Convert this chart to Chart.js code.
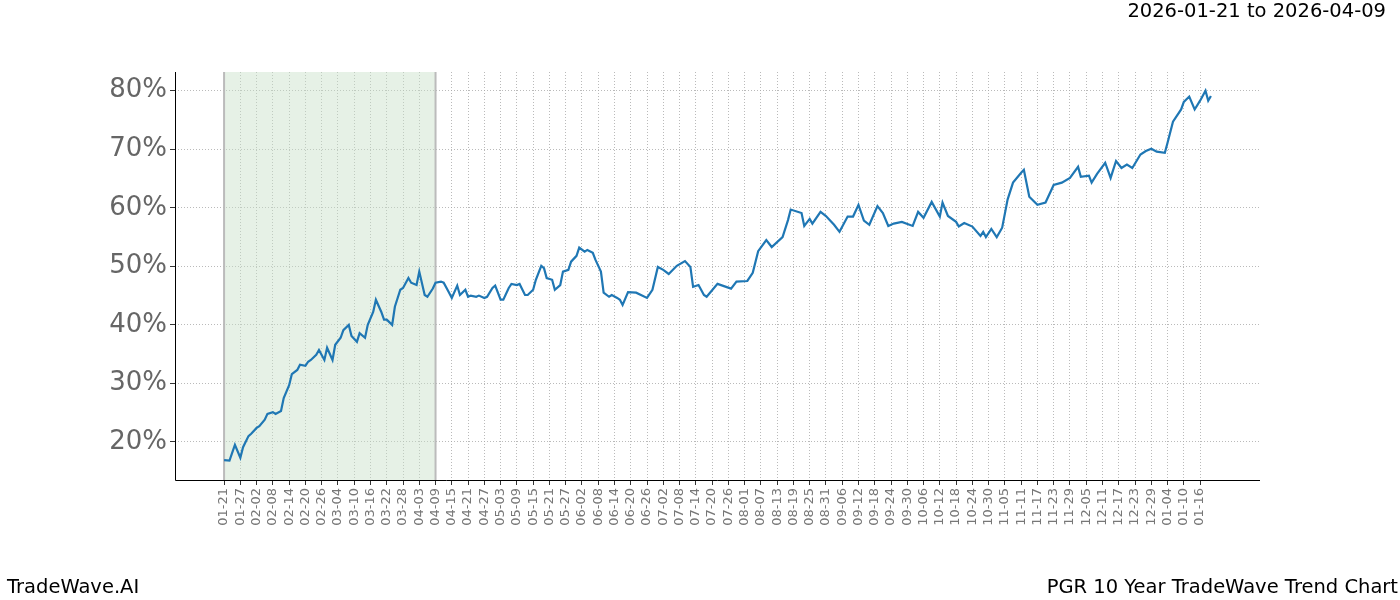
<!DOCTYPE html>
<html>
<head>
<meta charset="utf-8">
<script src="https://cdn.jsdelivr.net/npm/chart.js@4"></script>
<style>
    body { margin: 0; background: #fff; font-family: "DejaVu Sans", sans-serif; }
    #wrap { position: relative; width: 1400px; height: 600px; }
    .txt { position: absolute; font-size: 19.5px; color: #000; white-space: nowrap; }
</style>
</head>
<body>
<div id="wrap">
    <canvas id="trendChart" width="1400" height="600"></canvas>
    <div class="txt" style="right:14px; top:-1px;">2026-01-21 to 2026-04-09</div>
    <div class="txt" style="left:7px; top:575px;">TradeWave.AI</div>
    <div class="txt" style="right:2px; top:575px;">PGR 10 Year TradeWave Trend Chart</div>
</div>
<script>
// day offsets from 2026-01-21 and trend values (%)
const days = [0,2,4,6,7,9,10,12,13,15,16,18,19,21,22,24,25,27,28,30,31,32,34,35,37,38,40,41,43,44,46,47,49,50,52,53,55,56,58,59,60,62,63,65,66,68,69,71,72,74,75,77,78,80,81,83,84,86,87,89,90,91,93,94,96,97,99,100,102,103,105,106,108,109,111,112,114,115,117,118,119,121,122,124,125,127,128,130,131,133,134,136,137,139,140,142,143,145,146,147,149,152,156,158,160,162,164,167,170,172,173,175,177,178,182,187,189,193,195,197,200,202,206,208,209,213,214,216,217,220,222,225,227,230,232,234,236,238,241,243,245,247,250,254,256,258,261,264,265,267,270,271,273,276,279,280,281,283,285,287,289,291,294,295,297,300,303,306,309,312,315,316,319,320,322,325,327,329,331,333,335,338,340,342,344,347,348,350,353,354,356,358,360,362,363,364];
const values = [16.9,16.8,19.5,17.3,19.1,21.0,21.4,22.4,22.7,23.8,24.8,25.1,24.8,25.3,27.5,29.7,31.6,32.3,33.2,33.0,33.7,34.0,34.9,35.7,34.0,36.1,34.0,36.6,37.8,39.1,40.0,38.1,37.1,38.6,37.8,40.0,42.2,44.3,42.2,40.9,40.9,40.0,43.1,46.0,46.3,48.0,47.2,46.8,49.1,45.1,44.8,46.2,47.2,47.4,47.2,45.5,44.6,46.7,45.1,46.0,44.8,45.0,44.8,45.0,44.6,44.8,46.3,46.7,44.3,44.3,46.3,47.0,46.8,47.0,45.1,45.1,46.0,47.7,50.1,49.7,48.0,47.7,46.0,46.8,49.1,49.4,50.8,51.8,53.2,52.5,52.8,52.3,51.1,49.1,45.5,44.8,45.1,44.6,44.3,43.4,45.6,45.5,44.6,46.0,49.9,49.4,48.7,50.1,50.9,49.9,46.5,46.8,45.1,44.8,47.0,46.2,47.4,47.5,48.9,52.6,54.5,53.3,55.0,57.9,59.7,59.1,56.9,58.1,57.3,59.3,58.6,57.1,55.9,58.5,58.5,60.5,57.8,57.1,60.3,59.1,56.9,57.3,57.6,56.9,59.3,58.3,61.0,58.5,60.9,58.6,57.6,56.8,57.4,56.8,55.2,55.9,55.0,56.4,55.0,56.6,61.4,64.3,66.0,66.5,61.9,60.5,60.9,63.9,64.3,65.1,67.0,65.3,65.5,64.3,65.8,67.7,65.1,68.0,66.8,67.4,66.8,69.1,69.7,70.1,69.6,69.4,71.1,74.7,76.8,78.1,79.0,76.8,78.3,80.0,78.3,79.1];
const yTicks = [20, 30, 40, 50, 60, 70, 80];
const xTicks = [];
for (let d = 0; d <= 360; d += 6) xTicks.push(d);
const shadeRange = [0, 78];

function dayLabel(d) {
    const dt = new Date(Date.UTC(2026, 0, 21) + d * 86400000);
    return String(dt.getUTCMonth() + 1).padStart(2, '0') + '-' + String(dt.getUTCDate()).padStart(2, '0');
}

const shadePlugin = {
    id: 'shade',
    beforeDatasetsDraw(chart) {
        const { ctx, chartArea, scales } = chart;
        const x0 = scales.x.getPixelForValue(shadeRange[0]);
        const x1 = scales.x.getPixelForValue(shadeRange[1]);
        ctx.save();
        ctx.fillStyle = 'rgba(200,225,200,0.45)';
        ctx.fillRect(x0, chartArea.top, x1 - x0, chartArea.bottom - chartArea.top);
        ctx.strokeStyle = '#bbbbbb';
        ctx.lineWidth = 2;
        [x0, x1].forEach(x => {
            ctx.beginPath();
            ctx.moveTo(x, chartArea.top);
            ctx.lineTo(x, chartArea.bottom);
            ctx.stroke();
        });
        ctx.restore();
    }
};

// solid black spines on left and bottom (grid dash also hits the border)
const spinePlugin = {
    id: 'spines',
    afterDraw(chart) {
        const { ctx, chartArea } = chart;
        ctx.save();
        ctx.strokeStyle = '#000';
        ctx.lineWidth = 1;
        ctx.beginPath();
        ctx.moveTo(chartArea.left + 0.5, chartArea.top);
        ctx.lineTo(chartArea.left + 0.5, chartArea.bottom + 0.5);
        ctx.lineTo(chartArea.right, chartArea.bottom + 0.5);
        ctx.stroke();
        ctx.restore();
    }
};

const gridStyle = { color: '#a8a8a8', tickColor: '#000', tickLength: 5, lineWidth: 0.8 };

const ctx = document.getElementById('trendChart').getContext('2d');
new Chart(ctx, {
    type: 'line',
    data: {
        datasets: [{
            data: days.map((d, i) => ({ x: d, y: values[i] })),
            borderColor: '#1f77b4',
            borderWidth: 2.2,
            pointRadius: 0,
            fill: false,
            tension: 0
        }]
    },
    options: {
        responsive: false,
        animation: false,
        layout: { padding: { top: 72, right: 140, left: 0, bottom: 0 } },
        plugins: { legend: { display: false }, tooltip: { enabled: false } },
        scales: {
            x: {
                type: 'linear',
                min: -18.1,
                max: 382.1,
                afterBuildTicks: axis => { axis.ticks = xTicks.map(v => ({ value: v })); },
                afterFit: axis => { axis.height = 120; },
                ticks: {
                    autoSkip: false,
                    maxRotation: 90,
                    minRotation: 90,
                    color: '#777',
                    font: { family: 'DejaVu Sans', size: 13 },
                    callback: v => dayLabel(v)
                },
                grid: gridStyle,
                border: { display: false, dash: [1, 2] }
            },
            y: {
                min: 13.5,
                max: 83.2,
                afterBuildTicks: axis => { axis.ticks = yTicks.map(v => ({ value: v })); },
                afterFit: axis => { axis.width = 175; },
                ticks: {
                    color: '#666',
                    font: { family: 'DejaVu Sans', size: 26 },
                    callback: v => v + '%'
                },
                grid: gridStyle,
                border: { display: false, dash: [1, 2] }
            }
        }
    },
    plugins: [shadePlugin, spinePlugin]
});
</script>
</body>
</html>
